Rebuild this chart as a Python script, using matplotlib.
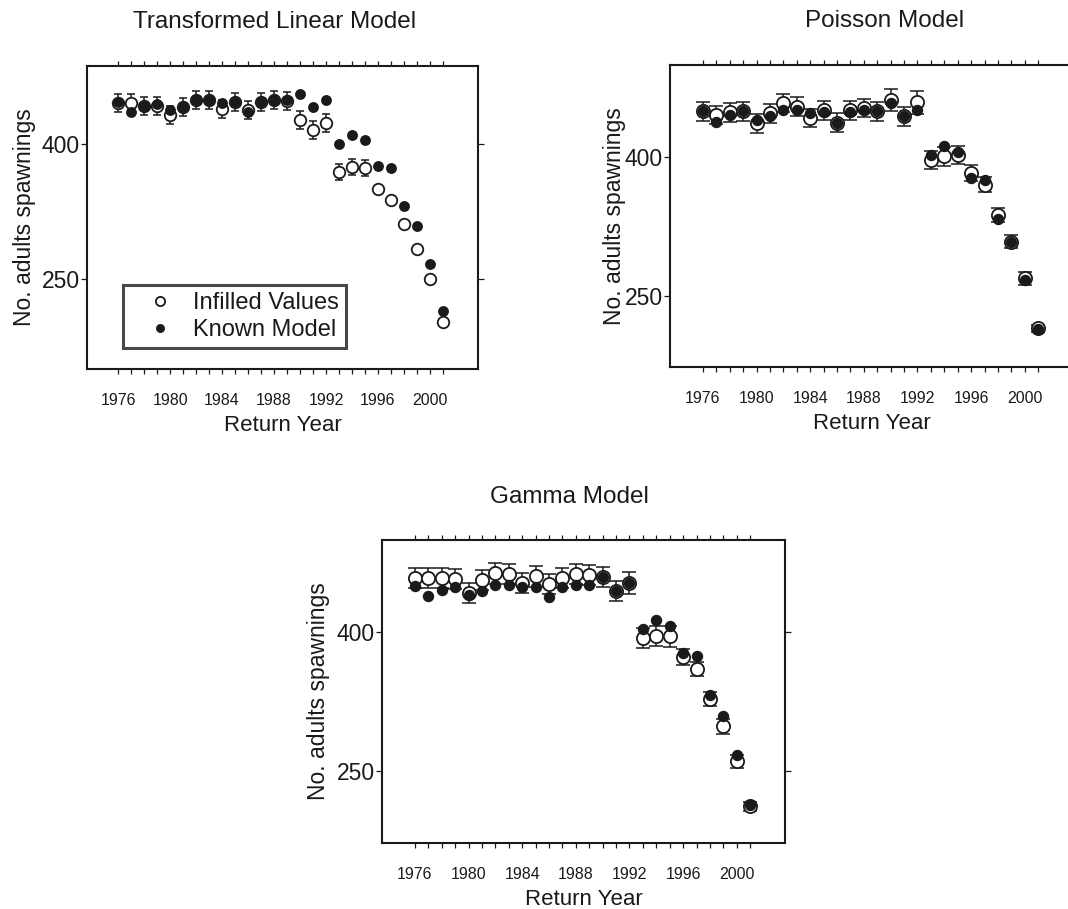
import numpy as np
import matplotlib
matplotlib.use("Agg")
import matplotlib.pyplot as plt
from matplotlib.ticker import FixedLocator

plt.rcParams['font.family'] = ['Liberation Sans', 'DejaVu Sans']

years = list(range(1976, 2002))
xtick_labels = ["1976", "1980", "1984", "1988", "1992", "1996", "2000"]
ytick_values = [250, 400]

# Transformed Linear Model
lin_known = [447, 436, 443, 445, 438.5, 441, 449.6, 449.6, 446, 447, 436, 447, 449.6,
             449, 456, 441, 449, 400, 410, 404.4, 375.6, 373, 331, 309, 266.7, 214.8]
lin_infill = [446, 446, 443, 443, 433, 441, 449, 449, 439.6, 447, 438, 447, 449,
              448, 427, 415.6, 423.7, 369, 374.8, 374, 350.7, 338.5, 311, 283, 249.6, 202.6]
lin_err = [10, 10, 10, 10, 10, 10, 10, 10, 10, 10, 10, 10, 10,
           10, 10, 10, 10, 9, 9, 9, 0, 0, 0, 0, 0, 0]

# Poisson Model
poi_known = [448.9, 438, 445.3, 448.9, 440, 443.5, 450.7, 450.7, 447, 447.8, 437, 447.8, 450.7,
             448.9, 458, 443.5, 450.7, 402, 411.9, 405.7, 377, 375, 332.8, 308.7, 267, 214]
poi_infill = [449, 445, 447.8, 449, 436, 447, 458, 454, 441.7, 450, 437, 450, 452.5,
              449, 461.5, 443.5, 458.6, 396.8, 400.4, 402, 382.4, 370, 337.4, 308.7, 269, 215]
poi_err = [10, 10, 10, 10, 10, 10, 10, 10, 10, 10, 10, 10, 10,
           10, 12, 10, 12, 10, 10, 10, 9, 8, 7.5, 7, 7, 4]

# Gamma Model
gam_known = [448.9, 438.8, 444.6, 448.2, 440, 443.5, 450.7, 450.7, 448.2, 448.2, 437, 448.2, 450,
             450, 459, 444, 452.5, 402.9, 413, 405.7, 377, 374, 332, 309.4, 267.3, 213.3]
gam_infill = [458, 458, 458, 456.8, 442, 456, 463, 462, 452.5, 459.7, 451.8, 458, 462,
              461.5, 459, 444, 452.5, 393, 395.7, 395, 372.7, 359.8, 327.4, 297.8, 260, 211.5]
gam_err = [11, 11, 11, 11, 11, 11, 11, 11, 11, 11, 11, 11, 11,
           11, 11, 11, 12, 11, 11, 11, 9, 8, 7.5, 8, 7, 5]

W, H = 1068, 909
fig = plt.figure(figsize=(W / 100, H / 100), dpi=100)
fig.patch.set_facecolor('white')
INK = '#1a1a1a'


def add_axes_px(left, top, right, bottom):
    return fig.add_axes([left / W, 1 - bottom / H, (right - left) / W, (bottom - top) / H])


def style(ax, xlim, ylim, ylab_x):
    ax.set_xlim(*xlim)
    ax.set_ylim(*ylim)
    for s in ax.spines.values():
        s.set_linewidth(1.5)
        s.set_color(INK)
    ax.xaxis.set_major_locator(FixedLocator([int(t) for t in xtick_labels]))
    ax.set_xticklabels(xtick_labels)
    ax.xaxis.set_minor_locator(FixedLocator(years))
    ax.set_yticks(ytick_values)
    ax.set_yticklabels([str(v) for v in ytick_values])
    ax.tick_params(axis='x', which='both', direction='out', top=True, bottom=True,
                   length=3.5, width=0.9, color=INK, labelsize=11.5, pad=14, labelcolor=INK)
    ax.tick_params(axis='y', which='major', direction='out', left=True, right=True,
                   length=4, width=0.9, color=INK, labelsize=16.5, pad=1, labelcolor=INK)
    ax.set_xlabel("Return Year", fontsize=16, color=INK, labelpad=4.5)
    ax.set_ylabel("No. adults spawnings", fontsize=16.5, color=INK)
    ax.yaxis.set_label_coords(ylab_x, 0.5)


def draw(ax, known, infill, err, ms_open, ms_fill, cap):
    xs = [y for y, e in zip(years, err) if e > 0]
    vs = [v for v, e in zip(infill, err) if e > 0]
    es = [e for e in err if e > 0]
    ax.errorbar(xs, vs, yerr=es, fmt='none', ecolor=INK, elinewidth=1.1,
                capsize=cap, capthick=1.1, zorder=2)
    ax.plot(years, infill, 'o', ms=ms_open, mfc='white', mec=INK, mew=1.3,
            linestyle='none', zorder=3, label='Infilled Values')
    ax.plot(years, known, 'o', ms=ms_fill, mfc=INK, mec=INK, linestyle='none',
            zorder=4, label='Known Model')


# Panel 1
ax1 = add_axes_px(87, 66, 478, 369)
draw(ax1, lin_known, lin_infill, lin_err, 8.3, 6.8, 3)
style(ax1, (1973.6, 2003.7), (150, 487), -0.131)
leg = ax1.legend(loc='lower left', bbox_to_anchor=(0.092, 0.069), borderaxespad=0,
                 fontsize=17, frameon=True, fancybox=False, edgecolor=INK,
                 handletextpad=0.15, borderpad=0.3, labelspacing=0.2,
                 handlelength=2.5, markerscale=0.8)
leg.get_frame().set_linewidth(2.2)
for t in leg.get_texts():
    t.set_color(INK)
fig.text(275 / W, 1 - 22 / H, "Transformed Linear Model", ha='center', va='center',
         fontsize=17.5, color=INK)

# Panel 2
ax2 = add_axes_px(670, 65, 1073, 367)
draw(ax2, poi_known, poi_infill, poi_err, 9.5, 7.2, 5.2)
style(ax2, (1973.54, 2003.6), (173.4, 499), -0.11)
fig.text(885 / W, 1 - 21 / H, "Poisson Model", ha='center', va='center',
         fontsize=17.5, color=INK)

# Panel 3
ax3 = add_axes_px(382, 540, 785, 843)
draw(ax3, gam_known, gam_infill, gam_err, 9.5, 7.2, 5.2)
style(ax3, (1973.54, 2003.6), (172, 499), -0.13)
fig.text(569 / W, 1 - 497 / H, "Gamma Model", ha='center', va='center',
         fontsize=17.5, color=INK)

fig.savefig("out.png", dpi=100, facecolor='white')
